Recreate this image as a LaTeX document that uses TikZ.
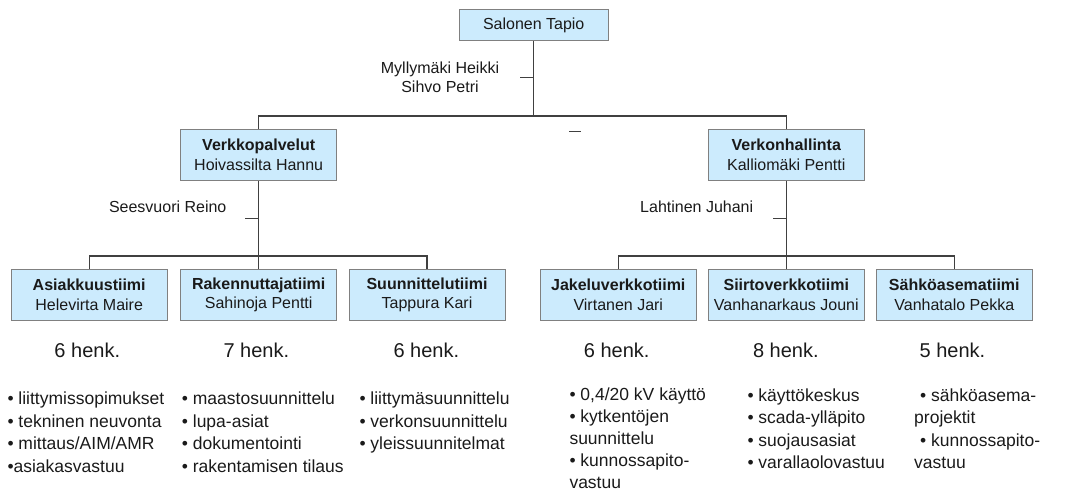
\documentclass[tikz,border=0pt]{standalone}
\usepackage{fontspec}
\setmainfont{Liberation Sans}
\definecolor{boxfill}{HTML}{CCEBFD}
\definecolor{boxedge}{HTML}{808080}
\definecolor{wire}{HTML}{404040}
\definecolor{ink}{HTML}{1A1A1A}
\begin{document}
\begin{tikzpicture}[x=1pt,y=-1pt,
  orgbox/.style={draw=boxedge, line width=1pt, fill=boxfill, inner sep=0pt,
    minimum width=156pt, minimum height=51pt, align=center, text=ink,
    font=\fontsize{16}{19.7}\selectfont},
  deputy/.style={align=center, text=ink, inner sep=0pt,
    font=\fontsize{16}{19}\selectfont},
  headcount/.style={text=ink, inner sep=0pt, font=\fontsize{20}{24}\selectfont},
  duties/.style={anchor=north west, align=left, text=ink, inner sep=0pt,
    font=\fontsize{17.5}{22.4}\selectfont},
  wireline/.style={draw=wire, line width=1.2pt}]
\useasboundingbox (0,0) rectangle (1089,491);

% top level
\node[orgbox, minimum width=149pt, minimum height=31.5pt] (top) at (533.7,25) {Salonen Tapio};

% second level
\node[orgbox] (vp) at (258.7,154.8) {\textbf{Verkkopalvelut}\\Hoivassilta Hannu};
\node[orgbox] (vh) at (786.3,154.8) {\textbf{Verkonhallinta}\\Kalliomäki Pentti};

% teams
\node[orgbox] (a1) at (89.2,294.8) {\textbf{Asiakkuustiimi}\\Helevirta Maire};
\node[orgbox] (a2) at (258.7,294.8) {\textbf{Rakennuttajatiimi}\\Sahinoja Pentti};
\node[orgbox] (a3) at (427,294.8) {\textbf{Suunnittelutiimi}\\Tappura Kari};
\node[orgbox] (b1) at (618.3,294.8) {\textbf{Jakeluverkkotiimi}\\Virtanen Jari};
\node[orgbox] (b2) at (786.3,294.8) {\textbf{Siirtoverkkotiimi}\\Vanhanarkaus Jouni};
\node[orgbox] (b3) at (954.3,294.8) {\textbf{Sähköasematiimi}\\Vanhatalo Pekka};

% assistants
\node[deputy] (s0) at (440,77.2) {Myllymäki Heikki\\Sihvo Petri};
\node[deputy] (s1) at (167.7,207) {Seesvuori Reino};
\node[deputy] (s2) at (696.7,207) {Lahtinen Juhani};

% junction points
\coordinate (j0) at (533.7,116);
\coordinate (j1) at (258.7,256);
\coordinate (j2) at (786.3,256);
\coordinate (t0) at (520,77.7);
\coordinate (t1) at (245,218.3);
\coordinate (t2) at (773.3,218.3);
\coordinate (m0) at (569,131.3);
\coordinate (m1) at (580.7,131.3);

% connectors
\draw[wireline] (top.south) -- (j0);
\draw[wireline] (vp.north) |- (j0) -| (vh.north);
\draw[wireline] (t0) -- (t0 -| top);

\draw[wireline] (vp.south) -- (j1);
\draw[wireline] (a1.north) |- (j1) -| (a3.north);
\draw[wireline] (j1) -- (a2.north);
\draw[wireline] (t1) -- (t1 -| vp);

\draw[wireline] (vh.south) -- (j2);
\draw[wireline] (b1.north) |- (j2) -| (b3.north);
\draw[wireline] (j2) -- (b2.north);
\draw[wireline] (t2) -- (t2 -| vh);

\draw[wireline] (m0) -- (m1);

% head counts
\node[headcount] (h1) at (87.3,350.7) {6 henk.};
\node[headcount] (h2) at (256.3,350.7) {7 henk.};
\node[headcount] (h3) at (426.3,350.7) {6 henk.};
\node[headcount] (h4) at (616.7,350.7) {6 henk.};
\node[headcount] (h5) at (785.8,350.7) {8 henk.};
\node[headcount] (h6) at (952.5,350.7) {5 henk.};

% responsibilities
\node[duties] (d1) at (7.3,391.6) {\rule{0pt}{13pt}• liittymissopimukset\\• tekninen neuvonta\\• mittaus/AIM/AMR\\•asiakasvastuu};
\node[duties] (d2) at (181.7,391.6) {\rule{0pt}{13pt}• maastosuunnittelu\\• lupa-asiat\\• dokumentointi\\• rakentamisen tilaus};
\node[duties] (d3) at (359.3,391.6) {\rule{0pt}{13pt}• liittymäsuunnittelu\\• verkonsuunnittelu\\• yleissuunnitelmat};
\node[duties, font=\fontsize{17.5}{22}\selectfont] (d4) at (569.3,387.3) {\rule{0pt}{13pt}• 0,4/20 kV käyttö\\• kytkentöjen\\suunnittelu\\• kunnossapito-\\vastuu};
\node[duties] (d5) at (747.3,388.3) {\rule{0pt}{13pt}• käyttökeskus\\• scada-ylläpito\\• suojausasiat\\• varallaolovastuu};
\node[duties] (d6) at (914,388.3) {\rule{0pt}{13pt}\hspace{6pt}• sähköasema-\\projektit\\\hspace{6pt}• kunnossapito-\\vastuu};
\end{tikzpicture}
\end{document}
